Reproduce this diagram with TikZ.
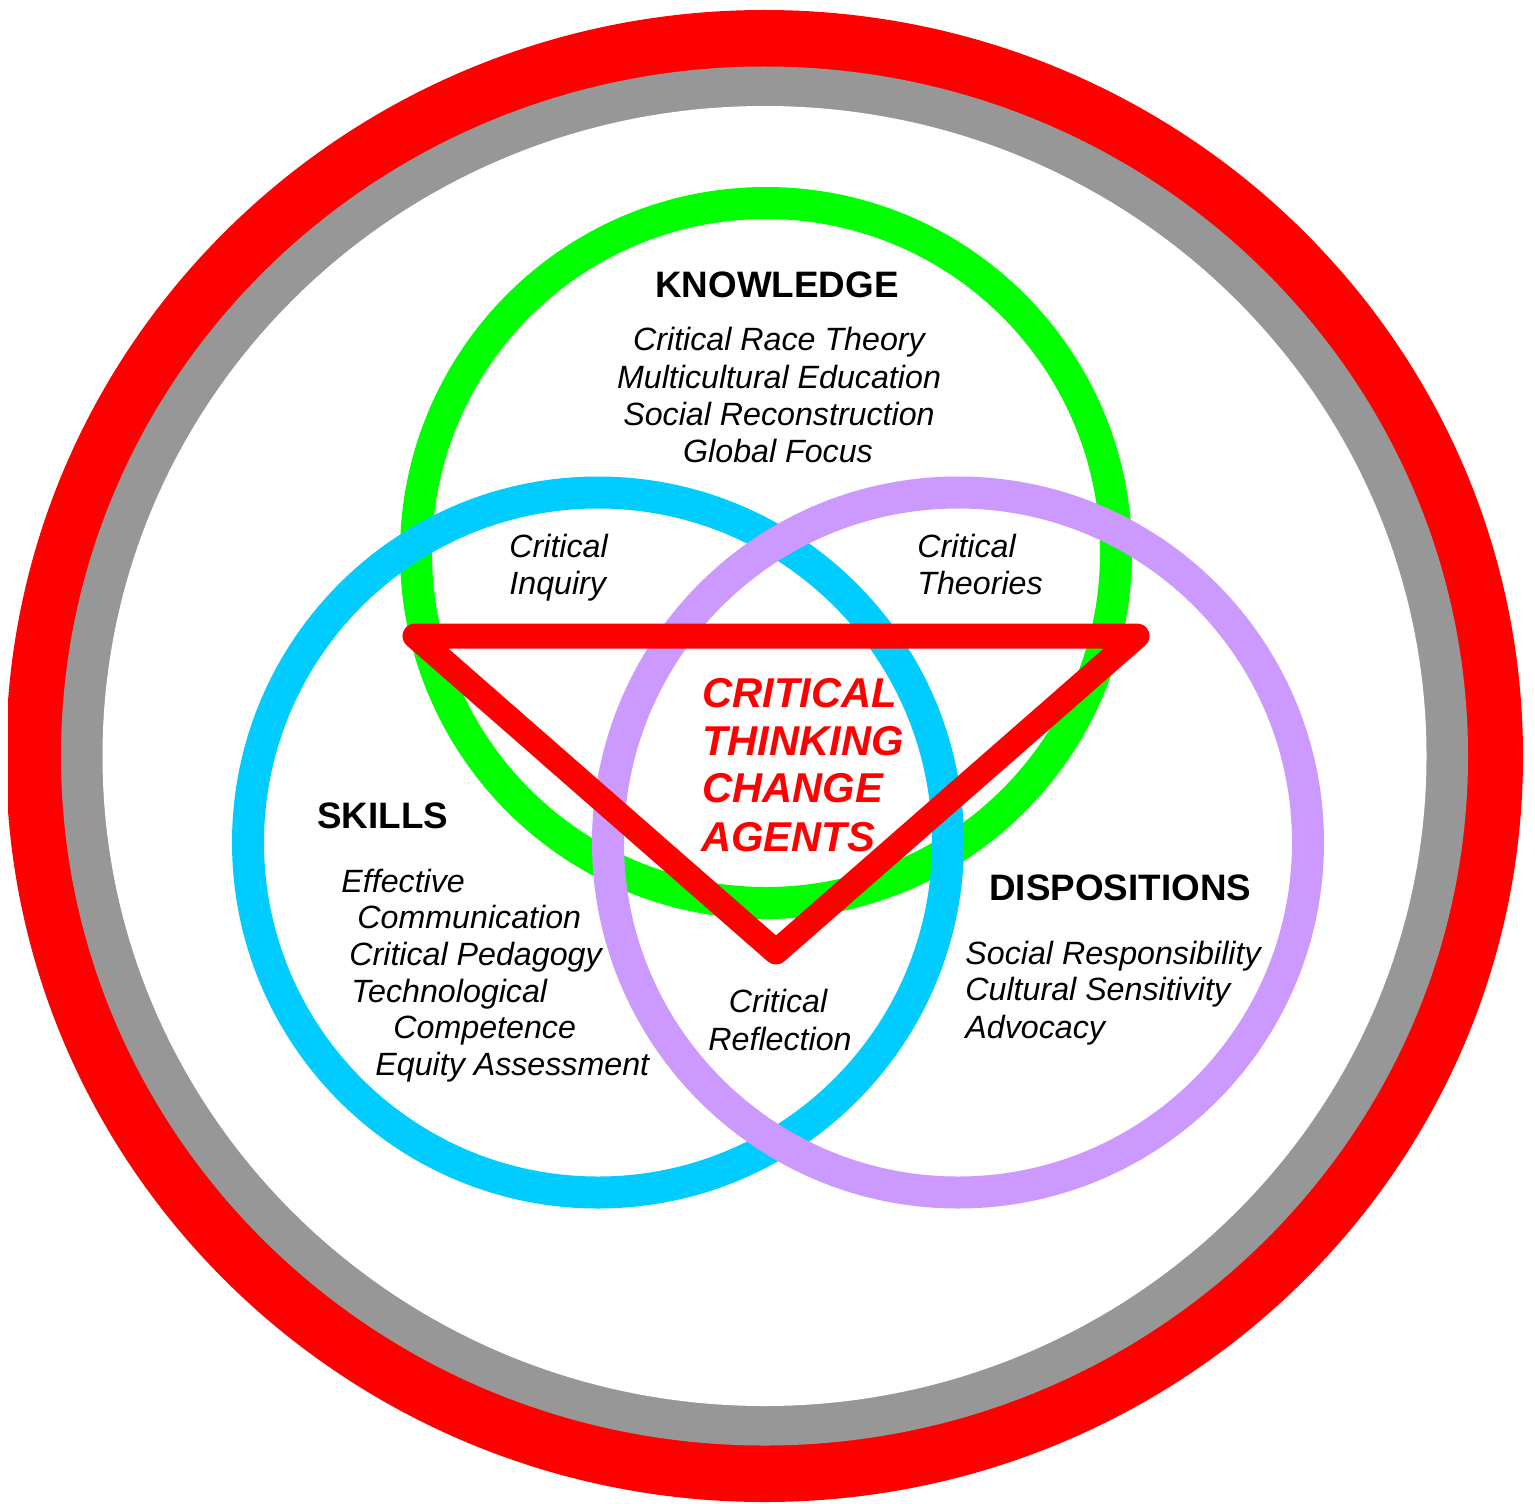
\documentclass[tikz,border=0pt]{standalone}
\usepackage{fontspec}
\setmainfont{Liberation Sans}
\definecolor{ringred}{RGB}{255,0,0}
\definecolor{ringgray}{RGB}{151,151,151}
\definecolor{knowgreen}{RGB}{0,255,0}
\definecolor{skillblue}{RGB}{0,204,255}
\definecolor{disppurple}{RGB}{204,153,255}
\begin{document}
\begin{tikzpicture}[x=0.5pt,y=-0.5pt,
  title/.style={font=\fontsize{18.4}{22}\selectfont\bfseries, inner sep=0pt},
  item/.style={font=\fontsize{16.1}{18.5}\selectfont\itshape, inner sep=0pt},
  core/.style={font=\fontsize{20.85}{24}\selectfont\bfseries\itshape, text=ringred, inner sep=0pt},
  ring/.style={line width=16pt}]
\useasboundingbox (0,0) rectangle (1535,1503);
\fill[white] (0,0) rectangle (1535,1503);
\begin{scope}
\clip (8,0) rectangle (1535,1503);
\fill[ringred] (764.5,756) ellipse [x radius=758.5, y radius=746];
\end{scope}
\fill[ringgray] (764.5,756) ellipse [x radius=703.5, y radius=689.5];
\fill[white] (764.5,756) ellipse [x radius=662, y radius=650];
% Venn circles
\draw[ring, knowgreen] (766,553) circle [radius=350];
\draw[ring, skillblue] (598,842.5) circle [radius=350];
\draw[ring, disppurple] (958,842.5) circle [radius=350];
% triangle
\coordinate (tl) at (415,636);
\coordinate (tr) at (1137,636);
\coordinate (tb) at (776,952);
\draw[ringred, line width=12.5pt, line join=round] (tl) -- (tr) -- (tb) -- cycle;
% Knowledge
\node[title, anchor=base] (know) at (777,297) {KNOWLEDGE};
\node[item, anchor=base] (k1) at (779,350) {Critical Race Theory};
\node[item, anchor=base] (k2) at (779,388) {Multicultural Education};
\node[item, anchor=base] (k3) at (779,425) {Social Reconstruction};
\node[item, anchor=base] (k4) at (778,462) {Global Focus};
% overlaps
\node[item, anchor=base west] (ci1) at (509,557) {Critical};
\node[item, anchor=base west] (ci2) at (509,594) {Inquiry};
\node[item, anchor=base west] (ct1) at (917,557) {Critical};
\node[item, anchor=base west] (ct2) at (917,594) {Theories};
\node[item, anchor=base] (cr1) at (778,1012) {Critical};
\node[item, anchor=base] (cr2) at (780,1050) {Reflection};
% Skills
\node[title, anchor=base west] (skills) at (317,828) {SKILLS};
\node[item, anchor=base west] (s1) at (341,892) {Effective};
\node[item, anchor=base west] (s2) at (357,928) {Communication};
\node[item, anchor=base west] (s3) at (349,965) {Critical Pedagogy};
\node[item, anchor=base west] (s4) at (351,1002) {Technological};
\node[item, anchor=base west] (s5) at (393,1038) {Competence};
\node[item, anchor=base west] (s6) at (375,1075) {Equity Assessment};
% Dispositions
\node[title, anchor=base west] (disp) at (989,900) {DISPOSITIONS};
\node[item, anchor=base west] (d1) at (965,964) {Social Responsibility};
\node[item, anchor=base west] (d2) at (965,1000) {Cultural Sensitivity};
\node[item, anchor=base west] (d3) at (965,1038) {Advocacy};
% Core
\node[core, anchor=base west] (c1) at (702,707) {CRITICAL};
\node[core, anchor=base west] (c2) at (702,755) {THINKING};
\node[core, anchor=base west] (c3) at (702,802) {CHANGE};
\node[core, anchor=base west] (c4) at (701,851) {AGENTS};
\end{tikzpicture}
\end{document}
